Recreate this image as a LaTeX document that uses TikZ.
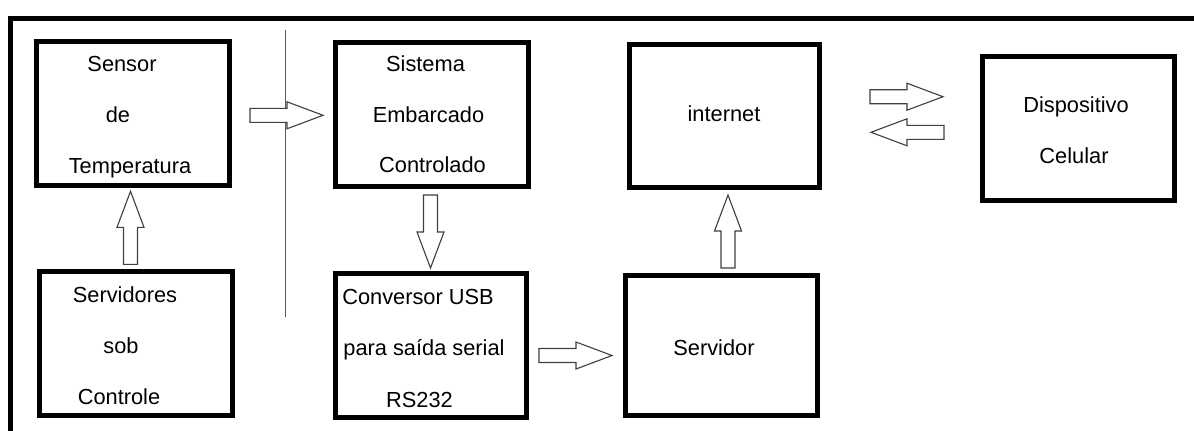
\documentclass[tikz,border=0pt]{standalone}
\usepackage{fontspec}
\setmainfont{Liberation Sans}
\begin{document}
\begin{tikzpicture}[x=1pt,y=-1pt,
  box/.style={draw=black,line width=5pt,fill=white,inner sep=0pt},
  lbl/.style={anchor=base,inner sep=0pt,font=\fontsize{21.8}{26}\selectfont},
  arrowline/.style={draw=black!75,line width=1.1pt,fill=white,line join=miter},
  blockarrow/.pic={\draw[arrowline] (0,-7) -- (37,-7) -- (37,-13.5) -- (73,0) -- (37,13.5) -- (37,7) -- (0,7) -- cycle;}]
\useasboundingbox (0,0) rectangle (1194,431);
% outer frame
\draw[line width=4.5pt,line join=miter] (10.5,440) -- (10.5,18.3) -- (1200,18.3);
% boxes
\node[box,minimum width=193pt,minimum height=144pt] (sensor) at (133,113.5) {};
\node[box,minimum width=193pt,minimum height=144pt] (servidores) at (136,343.5) {};
\node[box,minimum width=193pt,minimum height=144pt] (sistema) at (432,114.5) {};
\node[box,minimum width=191pt,minimum height=144pt] (conversor) at (431,345.5) {};
\node[box,minimum width=190pt,minimum height=143pt] (internet) at (724.5,116) {};
\node[box,minimum width=192pt,minimum height=140pt] (servidor) at (721.5,345.5) {};
\node[box,minimum width=192pt,minimum height=144pt] (celular) at (1078.5,128.5) {};
% labels
\node[lbl] (t1) at (122,71) {Sensor};
\node[lbl] (t2) at (118,122) {de};
\node[lbl] (t3) at (130,173) {Temperatura};
\node[lbl] (t4) at (125,302) {Servidores};
\node[lbl] (t5) at (121,353) {sob};
\node[lbl] (t6) at (119,404) {Controle};
\node[lbl] (t7) at (425.5,71) {Sistema};
\node[lbl] (t8) at (428.5,122) {Embarcado};
\node[lbl] (t9) at (432.5,172) {Controlado};
\node[lbl] (t10) at (418,304) {Conversor USB};
\node[lbl] (t11) at (424,355) {para saída serial};
\node[lbl] (t12) at (419.5,407) {RS232};
\node[lbl] (t13) at (724,121) {internet};
\node[lbl] (t14) at (714,355) {Servidor};
\node[lbl] (t15) at (1076,112) {Dispositivo};
\node[lbl] (t16) at (1074,163) {Celular};
% separator line
\coordinate (sepTop) at (285.5,30);
\coordinate (sepBot) at (285.5,317);
\draw[black!65,line width=1.3pt] (sepTop) -- (sepBot);
% block arrows
\coordinate (a1) at (250,115.3);
\coordinate (a2) at (130.5,264.3);
\coordinate (a3) at (430.5,195);
\coordinate (a4) at (539,355.5);
\coordinate (a5) at (728,268);
\coordinate (a6) at (870,96.7);
\coordinate (a7) at (944,132.3);
\pic at (a1) {blockarrow};
\pic[rotate=90] at (a2) {blockarrow};
\pic[rotate=-90] at (a3) {blockarrow};
\pic at (a4) {blockarrow};
\pic[rotate=90] at (a5) {blockarrow};
\pic at (a6) {blockarrow};
\pic[rotate=180] at (a7) {blockarrow};
\end{tikzpicture}
\end{document}
